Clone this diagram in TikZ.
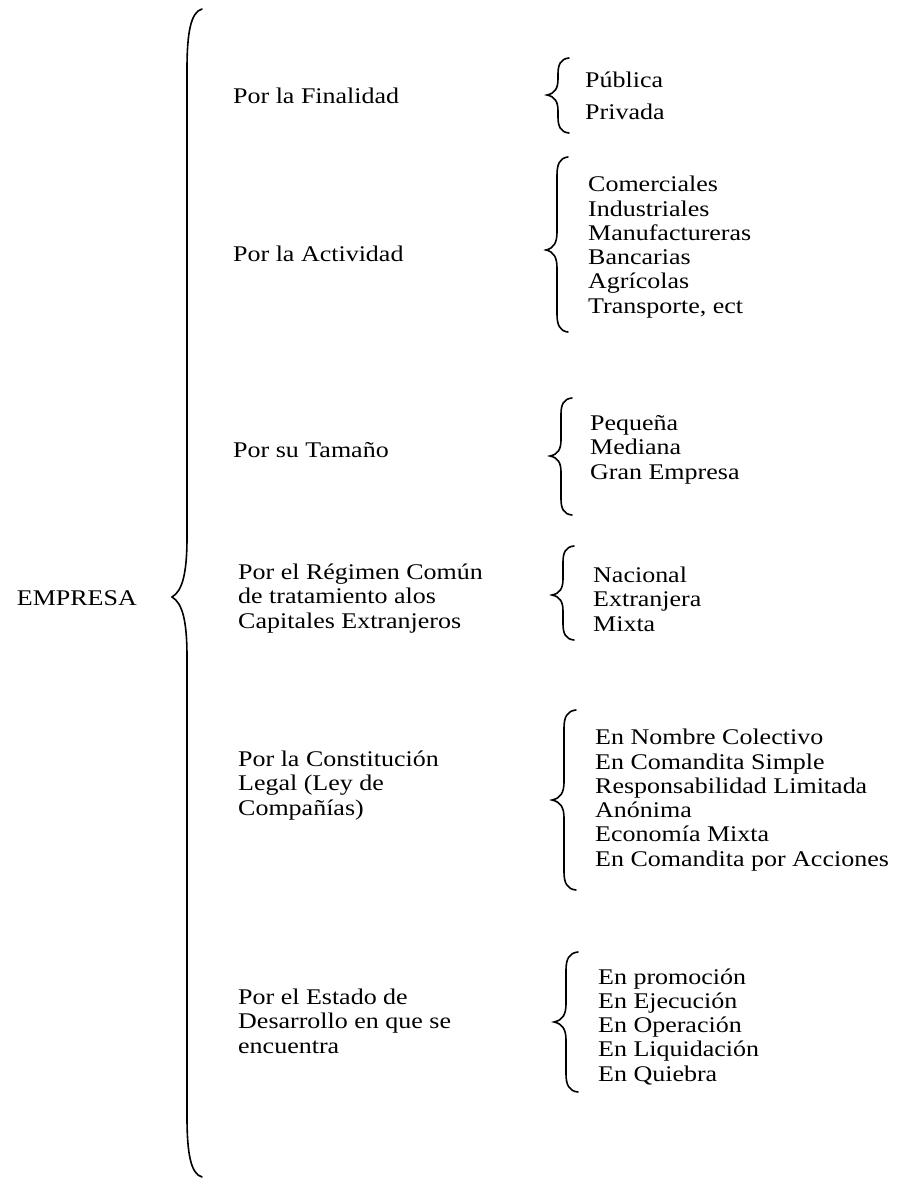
\documentclass[tikz,border=0pt]{standalone}
\usepackage{fontspec}
\setmainfont{Liberation Serif}[FakeStretch=1.16]
\usepackage{tikz}
\usetikzlibrary{positioning}

% x, top, cusp, bottom, curl width, curl length
\newcommand{\llave}[6]{%
  \draw[curly] (#1+#5,#2) .. controls (#1+0.25*#5,#2+0.05*#6) and (#1,#2+0.4*#6) .. (#1,#2+#6)
    -- (#1,#3-#6) .. controls (#1,#3-0.4*#6) and (#1-0.3*#5,#3-0.1*#6) .. (#1-#5,#3)
    .. controls (#1-0.3*#5,#3+0.1*#6) and (#1,#3+0.4*#6) .. (#1,#3+#6)
    -- (#1,#4-#6) .. controls (#1,#4-0.4*#6) and (#1+0.25*#5,#4-0.05*#6) .. (#1+#5,#4);}

\begin{document}
\begin{tikzpicture}[x=1pt, y=-1pt,
    branch/.style={anchor=base west, inner sep=0pt, align=left, font=\fontsize{22.4}{24.25}\selectfont},
    leaves/.style={branch},
    rootword/.style={branch, anchor=base east},
    curly/.style={line width=1.6pt, line cap=round}
]
\useasboundingbox (0,0) rectangle (899,1178);

\node[rootword] (empresa) at (137,605) {EMPRESA};

% multi-line nodes: base = last line
\node[branch] (finalidad) at (233,103) {Por la Finalidad};
\node[branch] (actividad) at (233,261) {Por la Actividad};
\node[branch] (tamano) at (233,457) {Por su Tamaño};
\node[branch] (regimen) at (238,628) {Por el Régimen Común\\de tratamiento alos\\Capitales Extranjeros};
\node[branch] (constitucion) at (238,815) {Por la Constitución\\Legal (Ley de\\Compañías)};
\node[branch] (estado) at (238,1053) {Por el Estado de\\Desarrollo en que se\\encuentra};

\node[leaves] (finalidadL) at (585,119) {Pública\\[7.75pt]Privada};
\node[leaves] (actividadL) at (588,313) {Comerciales\\Industriales\\Manufactureras\\Bancarias\\Agrícolas\\Transporte, ect};
\node[leaves] (tamanoL) at (590,479) {Pequeña\\Mediana\\Gran Empresa};
\node[leaves] (regimenL) at (593,631) {Nacional\\Extranjera\\Mixta};
\node[leaves] (constitucionL) at (595,866) {En Nombre Colectivo\\En Comandita Simple\\Responsabilidad Limitada\\Anónima\\Economía Mixta\\En Comandita por Acciones};
\node[leaves] (estadoL) at (598,1081) {En promoción\\En Ejecución\\En Operación\\En Liquidación\\En Quiebra};

% llaves
\llave{187}{9}{597}{1177}{15}{60}
\llave{558}{58}{95}{133}{11}{16}
\llave{557}{157}{250}{332}{11}{18}
\llave{561}{398}{456}{515}{11}{16}
\llave{563}{546}{595}{640}{11}{16}
\llave{564}{710}{800}{890}{12}{18}
\llave{566}{952}{1022}{1092}{12}{18}
\end{tikzpicture}
\end{document}
